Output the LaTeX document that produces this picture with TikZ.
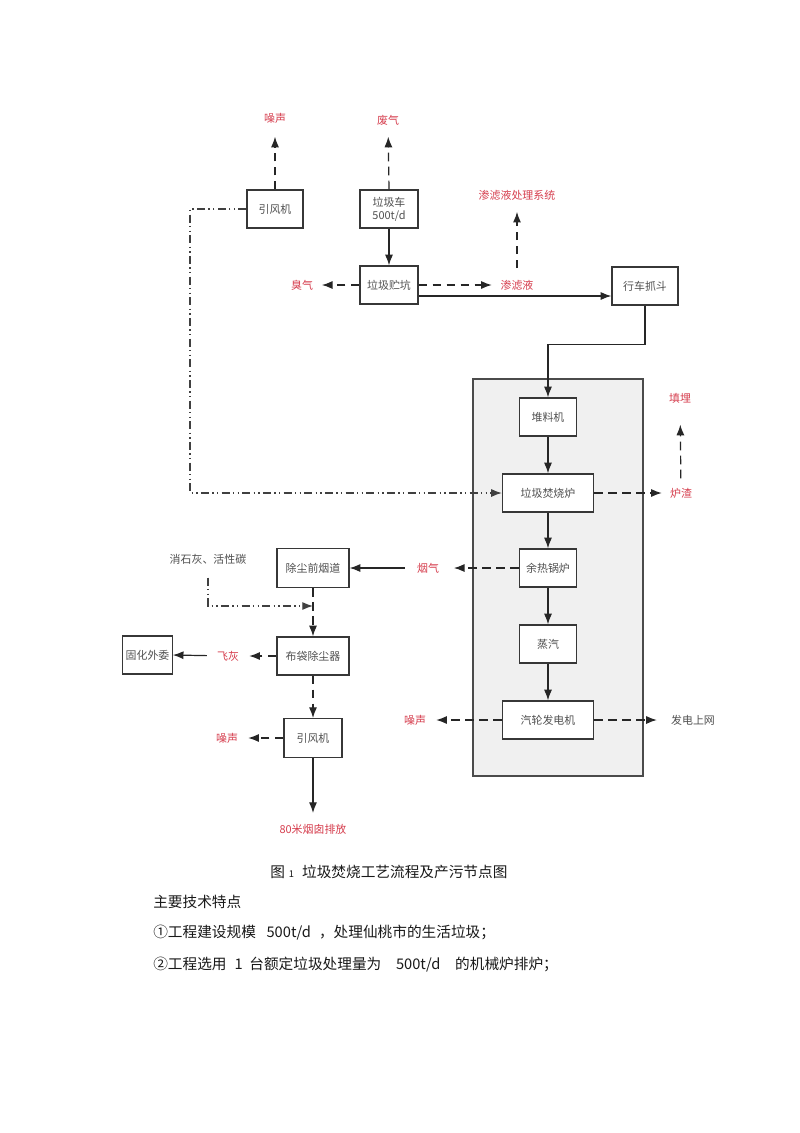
\documentclass[tikz,border=0pt]{standalone}
\usepackage{fontspec}
\setmainfont{Noto Sans CJK SC}
\usetikzlibrary{arrows.meta,calc}
\definecolor{lblred}{RGB}{214,62,78}
\definecolor{boxtxt}{RGB}{80,80,80}
\definecolor{boxline}{RGB}{55,55,55}
\definecolor{panelgray}{RGB}{240,240,240}
\begin{document}
\begin{tikzpicture}[x=0.75pt,y=-0.75pt,
  every node/.style={font=\fontsize{8.2}{9.8}\selectfont},
  box/.style={draw=boxline,fill=white,line width=0.95pt,text=boxtxt,minimum height=28.5pt,inner sep=0pt,align=center},
  lbl/.style={text=lblred,inner sep=0pt},
  plainlbl/.style={text=boxtxt,inner sep=0pt},
  arr/.style={line width=0.9pt,draw=black!85,-{Latex[length=8pt,width=6pt]}},
  dsh/.style={arr,dash pattern=on 6.5pt off 4pt},
  dshdot/.style={arr,draw=black!75,dash pattern=on 6pt off 2.5pt on 1pt off 2.5pt on 1pt off 2.5pt},
  body/.style={font=\fontsize{11}{13}\selectfont,inner sep=0pt,anchor=west,text=black!90}
]
\useasboundingbox (0,0) rectangle (800,1133);
\fill[white] (0,0) rectangle (800,1133);

% grey panel
\node[draw=boxline!90,fill=panelgray,line width=1pt,minimum width=127.5pt,minimum height=297.75pt,inner sep=0pt] (panel) at (558,577.5) {};

% boxes
\node[box,minimum width=42pt] (yf1) at (275,209) {引风机};
\node[box,minimum width=43.5pt] (ljche) at (389,209) {垃圾车\\500t/d};
\node[box,minimum width=43.5pt] (ljc) at (389,285) {垃圾贮坑};
\node[box,minimum width=49.5pt] (hc) at (645,286) {行车抓斗};
\node[box,minimum width=42.75pt] (dlj) at (548,417) {堆料机};
\node[box,minimum width=68.25pt] (fsl) at (548,493) {垃圾焚烧炉};
\node[box,minimum width=42.75pt] (yrgl) at (548,568) {余热锅炉};
\node[box,minimum width=42.75pt] (zq) at (548,644) {蒸汽};
\node[box,minimum width=68.25pt] (qlfdj) at (548,720) {汽轮发电机};
\node[box,minimum width=54pt,minimum height=29pt] (ccqyd) at (313,568) {除尘前烟道};
\node[box,minimum width=54pt] (bdccq) at (313,656) {布袋除尘器};
\node[box,minimum width=37pt] (gh) at (147.5,655) {固化外委};
\node[box,minimum width=43.5pt,minimum height=29pt] (yf2) at (313,738) {引风机};

% labels
\node[lbl] (zs1) at (275,118) {噪声};
\node[lbl] (fq) at (388,120) {废气};
\node[lbl] (cq) at (302,285) {臭气};
\node[lbl] (sll) at (517,285) {渗滤液};
\node[lbl] (slxt) at (517,195) {渗滤液处理系统};
\node[lbl] (tm) at (680,398) {填埋};
\node[lbl] (lz) at (681,493) {炉渣};
\node[lbl] (yq) at (428,568) {烟气};
\node[lbl] (zs2) at (415,720) {噪声};
\node[plainlbl] (fdsw) at (693,720) {发电上网};
\node[plainlbl] (xsh) at (208,559) {消石灰、活性碳};
\node[lbl] (fh) at (228,656) {飞灰};
\node[lbl] (zs3) at (227,738) {噪声};
\node[lbl] (yc) at (313,829) {80米烟囱排放};

% helper coordinates
\coordinate (dd1) at (190,493);
\coordinate (mix) at (313,606);
\coordinate (p1) at ($(ljc.east)+(0,11)$);

% connectors
\draw[dsh,shorten >=10pt] (yf1.north) -- (zs1);
\draw[dsh,shorten >=8.5pt] (ljche.north) -- (fq);
\draw[arr] (ljche.south) -- (ljc.north);
\draw[dsh,shorten >=6.5pt] (ljc.west) -- (cq);
\draw[dsh,shorten >=6.4pt] (ljc.east) -- (sll);
\draw[dsh,shorten <=8.6pt,shorten >=8.6pt] (sll) -- (slxt);
\draw[arr] (p1) -- (p1 -| hc.west);
\draw[arr] (hc.south) -- ++(0,39) -| (dlj.north);
\draw[dshdot] (yf1.west) -| (dd1) -- (fsl.west);
\draw[arr] (dlj.south) -- (fsl.north);
\draw[dsh,shorten >=6pt] (fsl.east) -- (lz);
\draw[dsh,shorten <=7pt,shorten >=16pt] (lz) -- (tm);
\draw[arr] (fsl.south) -- (yrgl.north);
\draw[dsh,shorten >=11pt] (yrgl.west) -- (yq);
\draw[arr,shorten <=9pt] (yq) -- (ccqyd.east);
\draw[arr] (yrgl.south) -- (zq.north);
\draw[arr] (zq.south) -- (qlfdj.north);
\draw[dsh,shorten >=7.5pt] (qlfdj.west) -- (zs2);
\draw[dsh,shorten >=10.5pt] (qlfdj.east) -- (fdsw);
\draw[dsh] (ccqyd.south) -- (bdccq.north);
\draw[dshdot,shorten <=10pt] (xsh.south) |- (mix);
\draw[dsh,shorten >=7.5pt] (bdccq.west) -- (fh);
\draw[arr,shorten <=7.5pt] (fh) -- (gh.east);
\draw[dsh] (bdccq.south) -- (yf2.north);
\draw[dsh,shorten >=7.5pt] (yf2.west) -- (zs3);
\draw[arr,shorten >=8pt] (yf2.south) -- (yc);

% caption and text
\node[body] (cap) at (270,872) {图\hspace{3pt}{\fontsize{7}{8}\selectfont 1}\hspace{6pt}垃圾焚烧工艺流程及产污节点图};
\node[body] (t1) at (153,902) {主要技术特点};
\node[body] (t2) at (153,933) {①工程建设规模\hspace{8pt}500t/d\hspace{6pt}，处理仙桃市的生活垃圾；};
\node[body] (t3) at (153,965) {②工程选用\hspace{6pt}1\hspace{5pt}台额定垃圾处理量为\hspace{11pt}500t/d\hspace{11pt}的机械炉排炉；};
\end{tikzpicture}
\end{document}
